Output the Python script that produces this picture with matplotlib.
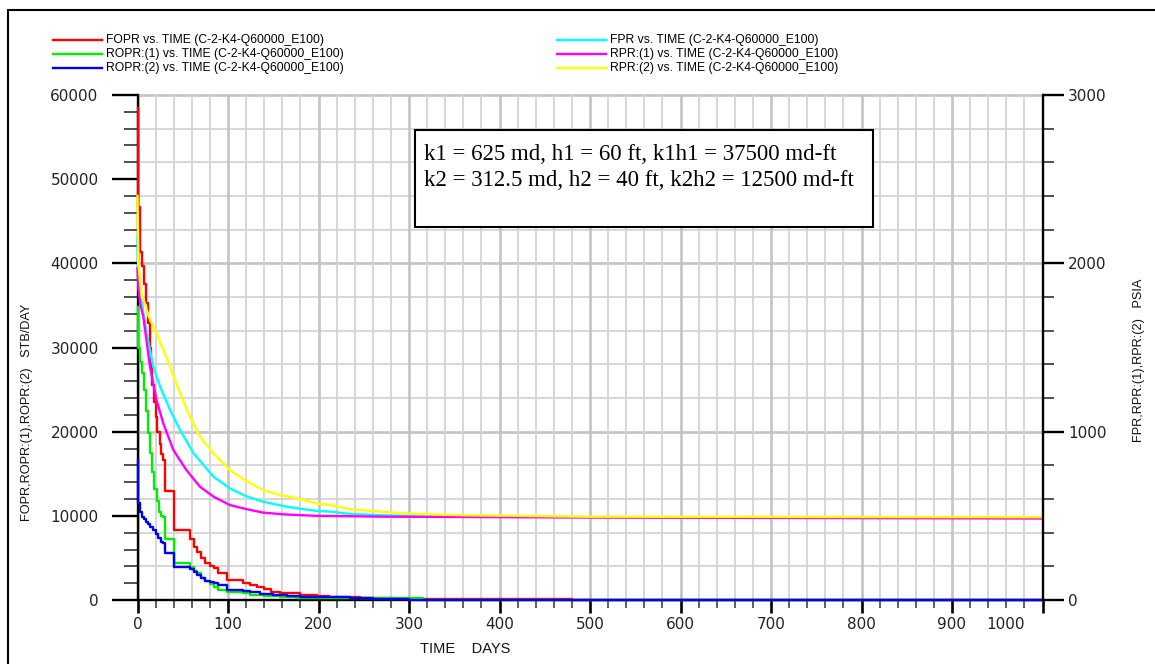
import numpy as np
import matplotlib
matplotlib.use('Agg')
import matplotlib.pyplot as plt
from matplotlib.lines import Line2D
from matplotlib.patches import Rectangle
from matplotlib.transforms import ScaledTranslation

# rates, STB/DAY (drawn as steps)
fopr_days = [1, 3, 5, 7, 9, 11.5, 14, 15, 16, 18, 20, 22, 24.5, 26.5, 28.5, 30, 40, 58, 62, 66, 70, 75, 80,
             84, 89, 99, 117, 124, 132, 140, 148, 157, 168, 180, 198, 212, 246, 282, 320, 480, 1000]
fopr = [58500, 46700, 41400, 39700, 37600, 35300, 32900, 30000, 27700, 25500, 23500, 21800, 20000, 18500,
        17300, 16600, 12900, 8300, 7300, 6300, 5700, 5000, 4400, 4000, 3770, 3170, 2380, 1980, 1750, 1550,
        1250, 990, 880, 800, 590, 500, 400, 220, 170, 150, 0]

ropr1_days = [1, 3, 5, 7, 9, 11.5, 14, 16, 18.5, 21, 23.5, 26, 28, 30, 40, 58, 62, 66, 70, 75, 80, 84, 89,
              99, 117, 124, 140, 157, 175, 194, 235, 316, 1000]
ropr1 = [34800, 30000, 28300, 27000, 25000, 22500, 19800, 17500, 15200, 13200, 11800, 10500, 10000, 9900,
         7200, 4360, 3900, 3500, 3150, 2600, 2200, 1900, 1580, 1190, 990, 800, 600, 420, 320, 250, 200, 200, 0]

ropr2_days = [1, 3, 5, 7, 9, 11.5, 14, 17, 20, 23, 26, 28.5, 30, 40, 58, 62, 66, 70, 75, 80, 84, 89, 99,
              117, 124, 135, 150, 165, 180, 200, 235, 260, 290, 300, 1000]
ropr2 = [16600, 11500, 10500, 9900, 9600, 9300, 9000, 8700, 8300, 7900, 7400, 6900, 6800, 5550, 3960, 3700,
         3300, 2950, 2600, 2300, 2150, 1980, 1780, 1190, 1050, 900, 750, 600, 480, 400, 320, 200, 100, 80, 0]

# pressures, PSIA
fpr_days = [0, 1, 3, 4.6, 10, 17.5, 25, 36, 47, 62, 84, 102, 121, 139, 161, 176, 198, 213, 235, 272, 298,
            400, 1000]
fpr = [2150, 1900, 1800, 1772, 1584, 1386, 1267, 1129, 1010, 871, 732, 663, 614, 584, 558, 545, 529, 525,
       511, 503, 500, 494, 488]

rpr1_days = [0, 1, 3, 4.6, 6.4, 13.8, 21, 28.5, 39.6, 54, 69, 84, 102, 121, 139, 161, 176, 198, 213, 272,
             500, 1000]
rpr1 = [1970, 1850, 1760, 1723, 1683, 1386, 1188, 1050, 891, 772, 673, 614, 564, 539, 519, 509, 505, 500,
        499, 495, 490, 484]

rpr2_days = [0, 1, 3, 5, 7, 9, 12, 15.7, 21, 28.5, 36, 47, 58, 69, 84, 102, 121, 139, 157, 176, 198, 213,
             235, 272, 309, 364, 420, 493, 1000]
rpr2 = [2400, 2000, 1880, 1800, 1775, 1750, 1690, 1645, 1584, 1485, 1386, 1228, 1089, 970, 871, 772, 703,
        653, 624, 604, 574, 564, 540, 523, 511, 503, 500, 495, 492]

case = "(C-2-K4-Q60000_E100)"
legend_left = [("FOPR vs. TIME " + case, "#ff0000"),
               ("ROPR:(1) vs. TIME " + case, "#00ee00"),
               ("ROPR:(2) vs. TIME " + case, "#0000ff")]
legend_right = [("FPR vs. TIME " + case, "#00ffff"),
                ("RPR:(1) vs. TIME " + case, "#ff00ff"),
                ("RPR:(2) vs. TIME " + case, "#ffff00")]
box_lines = ["k1 = 625 md, h1 = 60 ft, k1h1 = 37500 md-ft",
             "k2 = 312.5 md, h2 = 40 ft, k2h2 = 12500 md-ft"]

W, H = 1155, 664
def fx(x):
    return x / W
def fy(y):
    return 1 - y / H

plt.rcParams['font.family'] = 'DejaVu Sans'
fig = plt.figure(figsize=(W / 100, H / 100), dpi=100)
ax = fig.add_axes([fx(137.5), fy(600), fx(1042.5) - fx(137.5), fy(95) - fy(600)])
ax2 = ax.twinx()

ax.set_xlim(0, 1000)
ax.set_ylim(0, 60000)
ax2.set_ylim(0, 3000)

# grid
ax.set_xticks(np.arange(0, 1001, 100))
ax.set_xticks(np.arange(0, 1001, 20), minor=True)
ax.grid(which='minor', axis='x', color='#d4d4d4', lw=1.3)
ax.grid(which='major', axis='x', color='#c4c4c4', lw=1.9)
for v in np.arange(4000, 60001, 4000):
    major = v % 20000 == 0
    ax.axhline(v, color='#c4c4c4' if major else '#d4d4d4', lw=1.9 if major else 1.3,
               zorder=1, clip_on=False)

# rate curves
ax.plot(fopr_days, fopr, drawstyle='steps-pre', color='#ff0000', lw=1.7, clip_on=False, zorder=3)
ax.plot(ropr1_days, ropr1, drawstyle='steps-pre', color='#00ee00', lw=1.7, clip_on=False, zorder=3)
ax.plot(ropr2_days, ropr2, drawstyle='steps-pre', color='#0000ff', lw=1.7, clip_on=False, zorder=3)

# pressure curves
ax2.plot(fpr_days, fpr, color='#00ffff', lw=1.7, clip_on=False)
ax2.plot(rpr1_days, rpr1, color='#ff00ff', lw=1.7, clip_on=False)
ax2.plot(rpr2_days, rpr2, color='#ffff00', lw=1.7, clip_on=False)

# spines
for s in ['top', 'right']:
    ax.spines[s].set_visible(False)
for s in ['top', 'left', 'bottom']:
    ax2.spines[s].set_visible(False)
for s in [ax.spines['left'], ax.spines['bottom'], ax2.spines['right']]:
    s.set_linewidth(1.7)
    s.set_color('black')

# ticks
tick_font = 11
ax.set_yticks(np.arange(0, 60001, 10000))
ax.set_yticks(np.arange(0, 60001, 2000), minor=True)
ax.tick_params(axis='y', which='major', length=18.5, width=1.7, pad=9.5, labelsize=tick_font, labelcolor='#222222')
ax.tick_params(axis='y', which='minor', length=10, width=1.2, color='#333333')
ax.tick_params(axis='x', which='major', length=9.4, width=1.9, pad=3, labelsize=tick_font, labelcolor='#222222')
ax.tick_params(axis='x', which='minor', length=5.8, width=1.1, color='#333333')
ax2.set_yticks(np.arange(0, 3001, 1000))
ax2.set_yticks(np.arange(0, 3001, 200), minor=True)
ax2.tick_params(axis='y', which='major', length=15, width=1.7, pad=3.5, labelsize=tick_font, labelcolor='#222222')
ax2.tick_params(axis='y', which='minor', length=8, width=1.2, color='#333333')

last = ax.get_xticklabels()[-1]
last.set_transform(last.get_transform() + ScaledTranslation(-0.37, 0, fig.dpi_scale_trans))

# axis titles
lab = dict(family='Liberation Sans', fontsize=9.2, color='#111111')
fig.text(fx(27), fy(412), "FOPR,ROPR:(1),ROPR:(2)   STB/DAY", rotation=90, ha='center', va='center', **lab)
fig.text(fx(1139), fy(360), "FPR,RPR:(1),RPR:(2)   PSIA", rotation=90, ha='center', va='center', **lab)
fig.text(fx(465), fy(649), "TIME    DAYS", ha='center', va='center',
         family='Liberation Sans', fontsize=10.5, color='#111111')

# legend
rows = [40, 54, 68]
for (txt, c), y in zip(legend_left, rows):
    fig.add_artist(Line2D([fx(53), fx(102)], [fy(y), fy(y)], color=c, lw=1.7))
    fig.text(fx(106), fy(y), txt, ha='left', va='center', family='Liberation Sans', fontsize=8.7)
for (txt, c), y in zip(legend_right, rows):
    fig.add_artist(Line2D([fx(557), fx(606)], [fy(y), fy(y)], color=c, lw=1.7))
    fig.text(fx(610), fy(y), txt, ha='left', va='center', family='Liberation Sans', fontsize=8.7)

# annotation box
fig.add_artist(Rectangle((fx(415), fy(227)), fx(873) - fx(415), fy(130) - fy(227),
                         transform=fig.transFigure, facecolor='white', edgecolor='black', lw=1.5, zorder=5))
for line, y in zip(box_lines, [155, 180]):
    fig.text(fx(424), fy(y), line, ha='left', va='center', family='Liberation Serif', fontsize=16.5, zorder=6)

# outer frame
fig.add_artist(Rectangle((fx(8), fy(680)), fx(1170) - fx(8), fy(10) - fy(680),
                         transform=fig.transFigure, facecolor='none', edgecolor='black', lw=1.5))

fig.savefig('out.png', dpi=100)
